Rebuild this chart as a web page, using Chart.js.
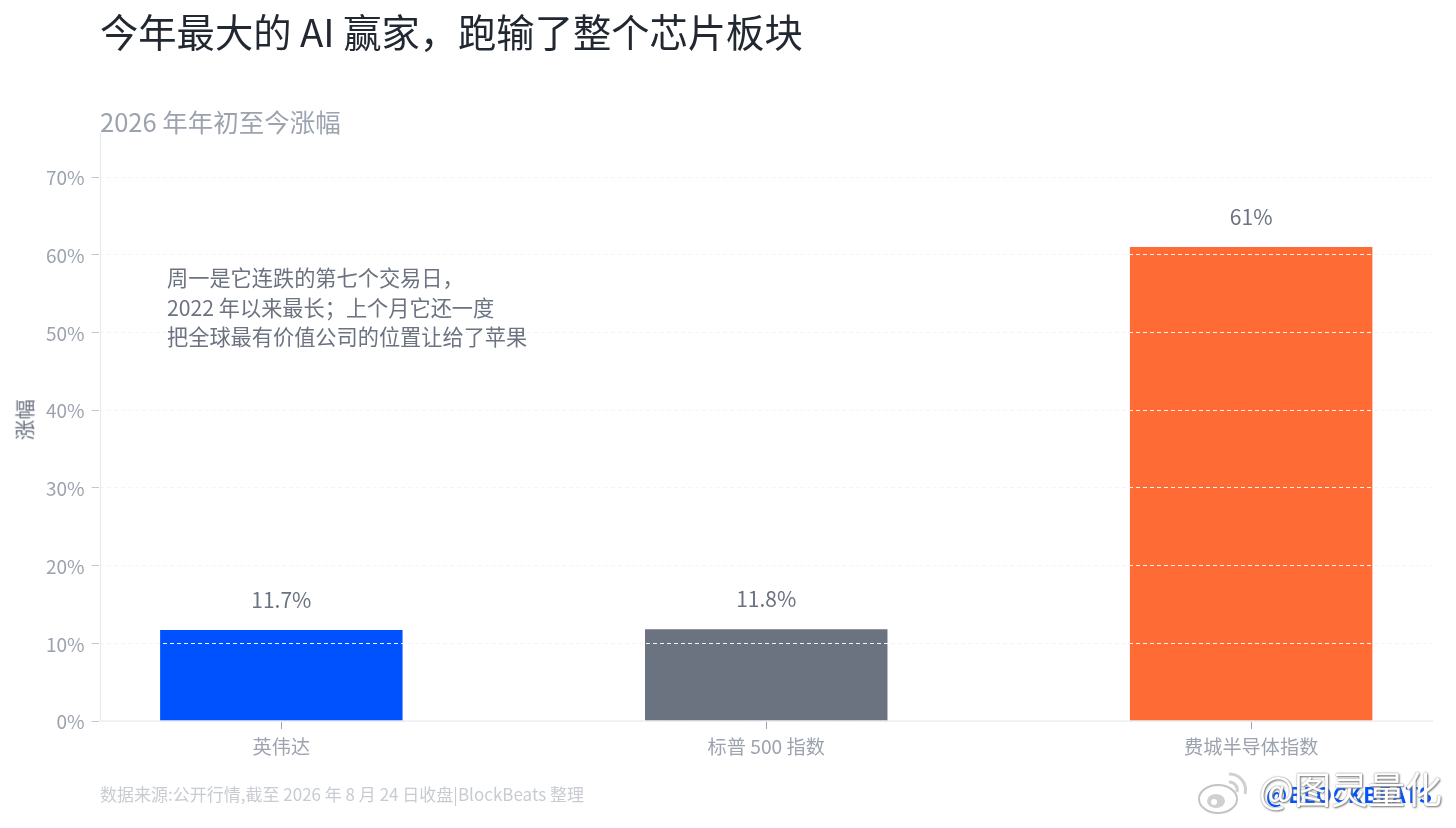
<!DOCTYPE html>
<html lang="zh-CN"><head><meta charset="utf-8">
<style>
html,body{margin:0;padding:0;background:#fff;width:1456px;height:828px;overflow:hidden;font-family:"Noto Sans CJK SC","Noto Sans",sans-serif}
#wrap{position:relative;width:1456px;height:828px}
canvas{position:absolute;left:0;top:0}
.t{position:absolute;white-space:pre;line-height:1}
#title{left:100px;top:12px;font-size:38.3px;color:#222831}
#sub{left:100px;top:108px;font-size:25.5px;color:#9ca3af}
#note{left:167px;top:262px;font-size:21.2px;color:#6b7280;line-height:29.5px;white-space:pre}
#foot{left:100px;top:785px;font-size:17px;color:#c8ccd2}
#ytitle{left:4px;top:410px;width:40px;text-align:center;font-size:20.5px;color:#6b7280;transform:rotate(-90deg)}
#blue{left:1266px;top:784px;font-size:21px;font-weight:700;color:#0052ff;letter-spacing:1px}
#wm{left:1259px;top:770px;font-size:37px;color:#fff;text-shadow:0 0 2px #888,1px 1px 2px #777}
#logo{position:absolute;left:1197px;top:768px}
</style></head><body><div id="wrap">
<canvas id="c" width="1456" height="828"></canvas>
<div class="t" id="title">今年最大的 AI 赢家，跑输了整个芯片板块</div>
<div class="t" id="sub">2026 年年初至今涨幅</div>
<div class="t" id="note">周一是它连跌的第七个交易日，
2022 年以来最长；上个月它还一度
把全球最有价值公司的位置让给了苹果</div>
<div class="t" id="ytitle">涨幅</div>
<div class="t" id="foot">数据来源:公开行情,截至 2026 年 8 月 24 日收盘|BlockBeats 整理</div>
<div class="t" id="blue">@BLOCKBEATS</div>
<div class="t" id="wm">@图灵量化</div>
<svg id="logo" width="56" height="50" viewBox="0 0 56 50">
<ellipse cx="21" cy="31" rx="19" ry="14" fill="#fff" stroke="#c4c4c4" stroke-width="2"/>
<ellipse cx="19" cy="33" rx="9" ry="7" fill="#d0d0d0"/>
<circle cx="17" cy="34" r="3" fill="#fff"/>
<path d="M32 6a16 16 0 0 1 16 20" fill="none" stroke="#d0d0d0" stroke-width="3"/>
<path d="M32 14a8 8 0 0 1 8 10" fill="none" stroke="#d0d0d0" stroke-width="3"/>
</svg>
</div>
<script src="https://cdn.jsdelivr.net/npm/chart.js@4/dist/chart.umd.min.js"></script>
<script>
const categories = ['英伟达', '标普 500 指数', '费城半导体指数'];
const values = [11.7, 11.8, 61];
const valueLabels = ['11.7%', '11.8%', '61%'];
const barColors = ['#0052ff', '#6b7280', '#ff6b35'];
const yTicks = [0, 10, 20, 30, 40, 50, 60, 70];

const FONT = '"Noto Sans CJK SC","Noto Sans",sans-serif';
const labelPlugin = {
  id: 'valueLabels',
  afterDatasetsDraw(chart) {
    const { ctx, scales: { x, y } } = chart;
    ctx.save();
    ctx.font = '21px ' + FONT;
    ctx.fillStyle = '#6b7280';
    ctx.textAlign = 'center';
    ctx.textBaseline = 'middle';
    values.forEach((v, i) => ctx.fillText(valueLabels[i], x.getPixelForValue(i), y.getPixelForValue(v) - 30));
    ctx.restore();
  },
  afterDraw(chart) {
    const { ctx, chartArea: a } = chart;
    ctx.save();
    ctx.strokeStyle = '#e5e7eb';
    ctx.lineWidth = 1;
    ctx.setLineDash([]);
    ctx.beginPath();
    ctx.moveTo(Math.round(a.left) + 0.5, a.top);
    ctx.lineTo(Math.round(a.left) + 0.5, a.bottom);
    ctx.lineTo(a.right, a.bottom);
    ctx.stroke();
    ctx.restore();
  }
};

new Chart(document.getElementById('c'), {
  type: 'bar',
  data: {
    labels: categories,
    datasets: [{
      data: values.map((v, i) => ({ x: i, y: v })),
      backgroundColor: barColors,
      barPercentage: 0.5,
      categoryPercentage: 1
    }]
  },
  options: {
    responsive: false,
    animation: false,
    layout: { padding: { left: 0, top: 133, right: 23, bottom: 0 } },
    plugins: { legend: { display: false }, tooltip: { enabled: false } },
    scales: {
      x: {
        type: 'linear',
        offset: false,
        min: -0.375,
        max: 2.375,
        afterBuildTicks: s => { s.ticks = categories.map((_, i) => ({ value: i })); },
        afterFit: s => { s.height = 107; },
        border: { color: 'transparent', width: 1 },
        grid: { offset: false, drawOnChartArea: false, tickLength: 8, tickColor: '#9ca3af' },
        ticks: {
          autoSkip: false, maxRotation: 0, padding: 6,
          color: '#9ca3af', font: { family: FONT, size: 19.2 },
          callback: v => categories[v]
        }
      },
      y: {
        min: 0,
        max: 75.67,
        afterBuildTicks: s => { s.ticks = yTicks.map(v => ({ value: v })); },
        afterFit: s => { s.width = 99.5; },
        border: { color: 'transparent', width: 1, dash: [4, 3] },
        grid: { z: 1, color: '#f4f5f6', tickLength: 8, tickColor: '#c4c8ce', tickBorderDash: [] },
        ticks: {
          padding: 7, labelOffset: 1, color: '#9ca3af', font: { family: FONT, size: 19 },
          callback: v => v + '%'
        }
      }
    }
  },
  plugins: [labelPlugin]
});
</script></body></html>
